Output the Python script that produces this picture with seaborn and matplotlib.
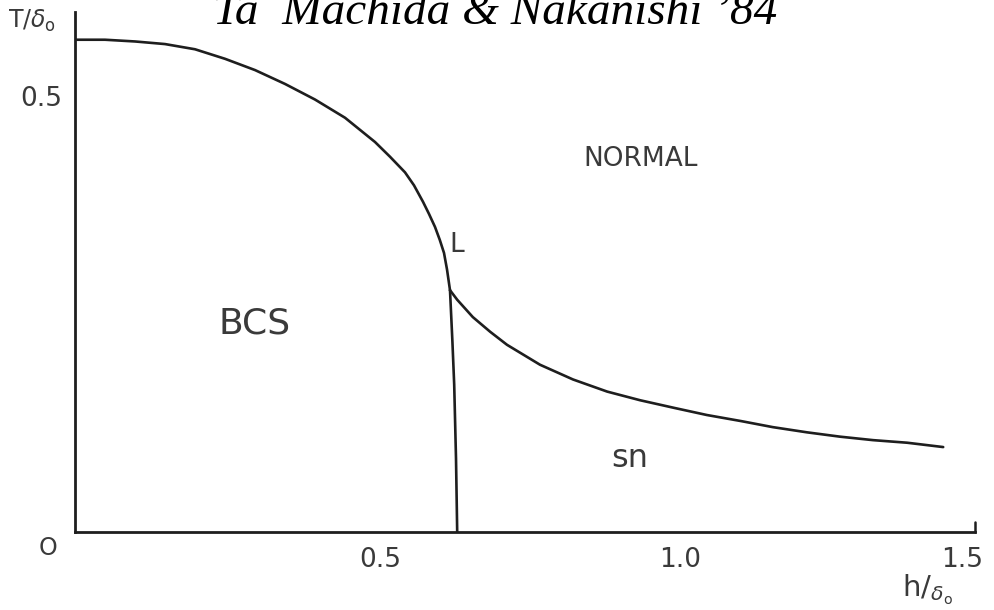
import matplotlib
matplotlib.use("Agg")
import matplotlib.pyplot as plt
import seaborn as sns
import pandas as pd

# Phase boundaries in the (h/δ0, T/δ0) plane
bcs_h = [0.0, 0.05, 0.1, 0.15, 0.2, 0.25, 0.3, 0.35, 0.4, 0.45, 0.5,
         0.525, 0.55, 0.565, 0.58, 0.59, 0.60, 0.608, 0.615, 0.62, 0.625]
bcs_T = [0.568, 0.568, 0.566, 0.563, 0.557, 0.546, 0.533, 0.517, 0.499,
         0.478, 0.450, 0.433, 0.415, 0.400, 0.381, 0.367, 0.352, 0.337,
         0.322, 0.303, 0.279]

sn_h = [0.625, 0.629, 0.632, 0.635, 0.637]
sn_T = [0.279, 0.220, 0.170, 0.085, 0.0]

normal_h = [0.625, 0.637, 0.663, 0.692, 0.72, 0.775, 0.83, 0.887, 0.942,
            1.0, 1.053, 1.11, 1.163, 1.22, 1.275, 1.33, 1.387, 1.447]
normal_T = [0.279, 0.268, 0.248, 0.231, 0.216, 0.193, 0.176, 0.162, 0.152,
            0.143, 0.135, 0.128, 0.121, 0.115, 0.110, 0.106, 0.103, 0.098]

x_ticks = [0.5, 1.0, 1.5]
x_tick_labels = ["0.5", "1.0", "1.5"]
y_ticks = [0.5]
y_tick_labels = ["0.5"]

sns.set_theme(style="white")
plt.rcParams["font.family"] = ["DejaVu Sans"]
plt.rcParams["mathtext.fontset"] = "dejavusans"

ink = "#1e1e1e"
txt = "#3a3a3a"

fig = plt.figure(figsize=(9.94, 6.10), dpi=100)
ax = fig.add_axes([75 / 994, 78 / 610, 900 / 994, 520 / 610])

curves = [
    pd.DataFrame({"h": bcs_h, "T": bcs_T}),
    pd.DataFrame({"h": sn_h, "T": sn_T}),
    pd.DataFrame({"h": normal_h, "T": normal_T}),
]
for df in curves:
    sns.lineplot(data=df, x="h", y="T", sort=False, estimator=None,
                 color=ink, linewidth=1.9, ax=ax)

ax.set_xlim(0, 1.5)
ax.set_ylim(0, 0.6)
ax.set_xlabel("")
ax.set_ylabel("")
for side in ["top", "right"]:
    ax.spines[side].set_visible(False)
for side in ["left", "bottom"]:
    ax.spines[side].set_color(ink)
    ax.spines[side].set_linewidth(2.0)

ax.set_xticks(x_ticks[:2])
ax.set_xticklabels([])
ax.tick_params(axis="x", direction="out", length=7, width=1.5, color=ink)
ax.set_yticks(y_ticks)
ax.set_yticklabels([])
ax.tick_params(axis="y", direction="out", length=10, width=1.5, color=ink)
# small upturned hook at the end of the h axis
ax.plot([1.5, 1.5], [0.0, 0.012], color=ink, lw=1.8, clip_on=False)

# tick labels
x_label_pos = [0.508, 1.008, 1.478]
for xv, lab in zip(x_label_pos, x_tick_labels):
    ax.text(xv, -0.032, lab, ha="center", va="center",
            fontsize=19, color=txt)
ax.text(-0.022, y_ticks[0], y_tick_labels[0], ha="right", va="center",
        fontsize=19, color=txt)
ax.text(-0.045, -0.018, "O", ha="center", va="center", fontsize=17, color=txt)

# axis labels
fig.text(8 / 994, 1 - 21 / 610, r"T/$\delta_{\mathrm{o}}$", ha="left",
         va="center", fontsize=17, color=txt)
ax.text(1.42, -0.067, r"h/$_{\delta_{\mathrm{o}}}$", ha="center",
        va="center", fontsize=21, color=txt)

# region labels
ax.text(0.943, 0.430, "NORMAL", ha="center", va="center", fontsize=19,
        color=txt)
ax.text(0.30, 0.240, "BCS", ha="center", va="center", fontsize=26, color=txt)
ax.text(0.925, 0.085, "sn", ha="center", va="center", fontsize=23, color=txt)
ax.text(0.637, 0.331, "L", ha="center", va="center", fontsize=19, color=txt)

# title
fig.text(495 / 994, 1 - 24 / 610, "Ta  Machida & Nakanishi ’84",
         ha="center", va="baseline", fontsize=34, style="italic",
         family="Liberation Serif", color="black")

fig.savefig("out.png", dpi=100, facecolor="white")
